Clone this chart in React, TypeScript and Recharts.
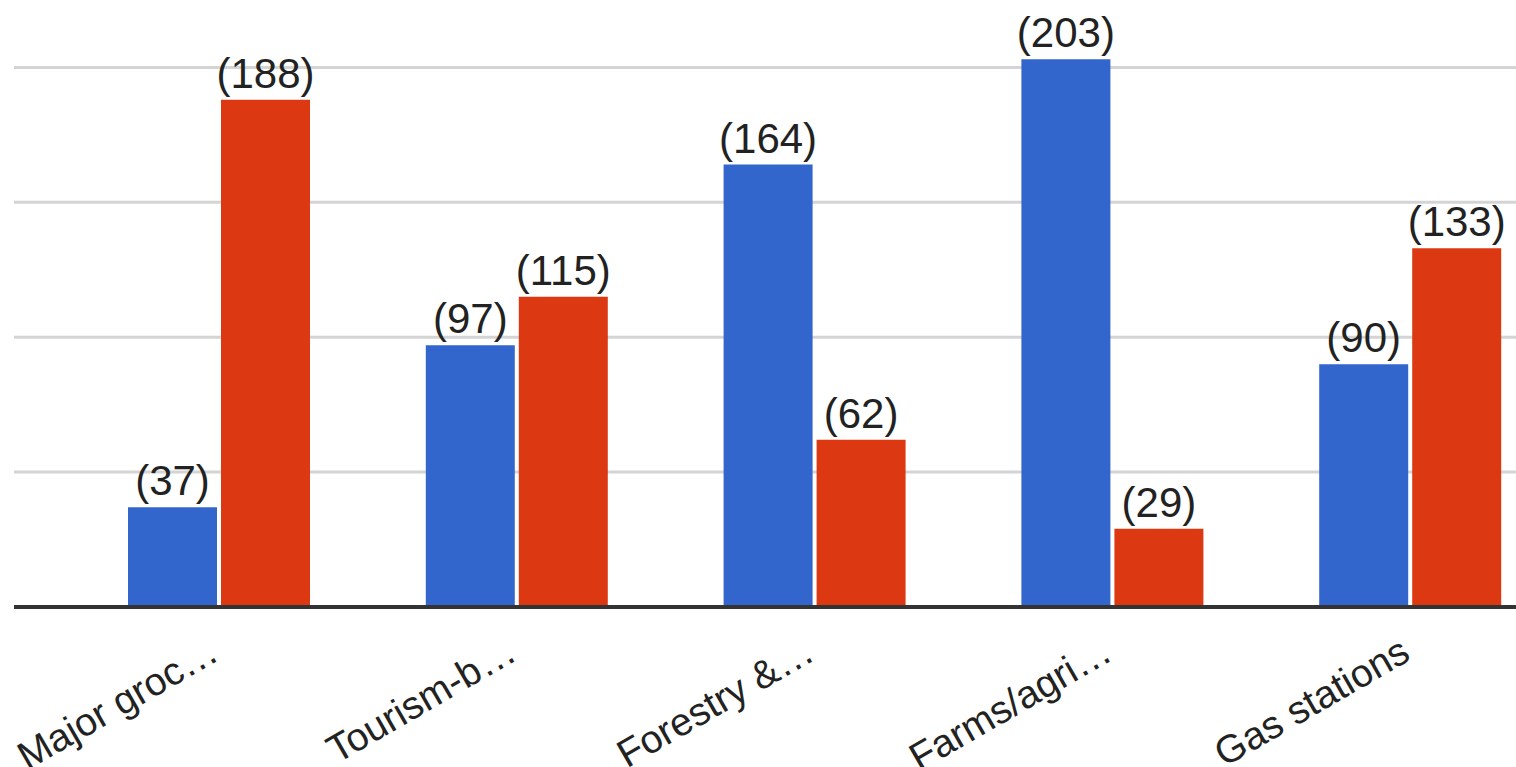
import { BarChart, Bar, XAxis, YAxis, CartesianGrid, LabelList } from 'recharts'

const categories = ['Major groc…', 'Tourism-b…', 'Forestry &…', 'Farms/agri…', 'Gas stations']
const seriesBlue = [37, 97, 164, 203, 90]
const seriesRed = [188, 115, 62, 29, 133]
const gridValues = [50, 100, 150, 200]

const data = categories.map((name, i) => ({
  name,
  blue: seriesBlue[i],
  red: seriesRed[i],
}))

const FONT = '"Liberation Sans", Arial, sans-serif'

function SlantTick(props: any) {
  const { x, y, payload } = props
  const tx = x + 2
  const ty = y + 44
  return (
    <text
      x={tx}
      y={ty}
      textAnchor="end"
      transform={`rotate(-30, ${tx}, ${ty})`}
      fontSize={39}
      fontFamily={FONT}
      fill="#222"
    >
      {payload.value}
    </text>
  )
}

const EmptyTick = () => <g />

export default function App() {
  const fmt = (v: any) => `(${v})`

  return (
    <div
      style={{
        position: 'fixed',
        top: 0,
        left: 0,
        width: 1516,
        height: 767,
        overflow: 'hidden',
        background: '#fff',
      }}
    >
      <BarChart
        width={1559}
        height={767}
        data={data}
        barSize={89}
        barGap={4}
        margin={{ top: 0, right: 0, left: 14, bottom: 0 }}
      >
        <CartesianGrid
          vertical={false}
          horizontalValues={gridValues}
          stroke="#d4d4d4"
          strokeWidth={3}
        />
        <XAxis
          dataKey="name"
          height={160}
          padding={{ left: 56, right: 0 }}
          axisLine={{ stroke: '#333', strokeWidth: 4 }}
          tickLine={false}
          interval={0}
          tick={<SlantTick />}
        />
        <YAxis
          width={0}
          domain={[0, 225]}
          ticks={[0, ...gridValues]}
          interval={0}
          tick={<EmptyTick />}
          axisLine={false}
          tickLine={false}
        />
        <Bar dataKey="blue" fill="#3366CC" isAnimationActive={false}>
          <LabelList
            dataKey="blue"
            position="top"
            offset={12}
            formatter={fmt}
            fill="#222"
            fontSize={42}
            fontFamily={FONT}
          />
        </Bar>
        <Bar dataKey="red" fill="#DC3912" isAnimationActive={false}>
          <LabelList
            dataKey="red"
            position="top"
            offset={12}
            formatter={fmt}
            fill="#222"
            fontSize={42}
            fontFamily={FONT}
          />
        </Bar>
      </BarChart>
    </div>
  )
}
